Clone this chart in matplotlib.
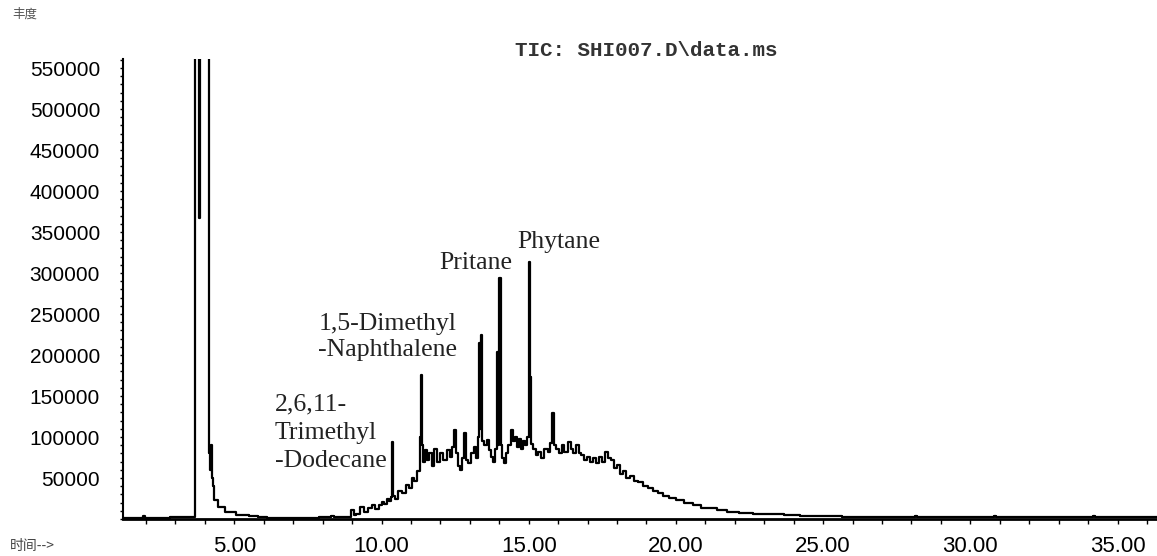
import matplotlib
matplotlib.use("Agg")
import matplotlib.pyplot as plt
from matplotlib.ticker import MultipleLocator, FixedLocator

# Total ion chromatogram, retention time in minutes vs. abundance (counts)
rt = [1.22, 1.85, 1.93, 2.00, 2.10, 3.50, 3.66, 3.69, 3.80, 3.82,
      3.84, 4.14, 4.16, 4.20, 4.23, 4.26, 4.30, 4.35, 4.51, 4.85,
      5.30, 5.70, 5.94, 6.30, 7.50, 8.25, 8.35, 8.45, 8.93, 9.03,
      9.10, 9.17, 9.37, 9.47, 9.60, 9.74, 9.85, 9.95, 10.05, 10.15,
      10.22, 10.29, 10.36, 10.38, 10.41, 10.50, 10.63, 10.77, 10.87, 10.97,
      11.07, 11.17, 11.27, 11.32, 11.37, 11.39, 11.44, 11.51, 11.58, 11.68,
      11.75, 11.85, 11.95, 12.05, 12.16, 12.26, 12.36, 12.43, 12.51, 12.56,
      12.63, 12.70, 12.77, 12.84, 12.90, 13.00, 13.10, 13.18, 13.25, 13.31,
      13.33, 13.36, 13.40, 13.42, 13.52, 13.62, 13.69, 13.75, 13.82, 13.89,
      13.93, 13.97, 14.03, 14.06, 14.13, 14.20, 14.26, 14.36, 14.43, 14.50,
      14.57, 14.64, 14.71, 14.77, 14.84, 14.91, 14.97, 15.02, 15.04, 15.07,
      15.11, 15.21, 15.28, 15.38, 15.48, 15.59, 15.69, 15.76, 15.84, 15.89,
      15.99, 16.09, 16.16, 16.27, 16.37, 16.47, 16.57, 16.67, 16.74, 16.84,
      16.94, 17.04, 17.14, 17.25, 17.35, 17.45, 17.55, 17.66, 17.76, 17.86,
      17.96, 18.06, 18.16, 18.27, 18.37, 18.51, 18.64, 18.78, 18.95, 19.12,
      19.29, 19.46, 19.66, 19.87, 20.14, 20.41, 20.72, 20.99, 21.26, 21.56,
      21.94, 22.35, 22.86, 23.44, 23.88, 24.56, 25.34, 25.92, 26.94, 28.10,
      28.16, 28.22, 30.78, 30.84, 30.90, 34.14, 34.20, 34.26, 36.34]

tic = [1500, 1500, 4000, 1500, 1500, 2000, 3000, 1500000, 1400000, 367000,
       1300000, 1200000, 80000, 60000, 90000, 50000, 40000, 23000, 15000, 9000,
       5000, 3500, 2500, 1500, 1500, 2000, 4000, 2000, 3000, 11000,
       5000, 6000, 15000, 8000, 14000, 17000, 12000, 17000, 21000, 18000,
       25000, 22000, 27000, 94000, 28000, 24000, 34000, 32000, 42000, 38000,
       50000, 46000, 58000, 100000, 176000, 90000, 70000, 84000, 72000, 80000,
       65000, 85000, 70000, 80000, 72000, 84000, 76000, 88000, 108000, 80000,
       65000, 60000, 75000, 105000, 72000, 68000, 80000, 88000, 74000, 100000,
       215000, 110000, 224000, 95000, 90000, 96000, 84000, 76000, 70000, 85000,
       204000, 90000, 294000, 90000, 74000, 68000, 80000, 90000, 108000, 95000,
       100000, 88000, 98000, 85000, 95000, 90000, 100000, 313000, 100000, 173000,
       92000, 85000, 78000, 82000, 74000, 85000, 82000, 93000, 129000, 90000,
       85000, 80000, 90000, 82000, 94000, 85000, 80000, 90000, 80000, 78000,
       72000, 76000, 70000, 75000, 68000, 76000, 70000, 82000, 74000, 72000,
       62000, 66000, 55000, 58000, 50000, 52000, 46000, 45000, 40000, 38000,
       34000, 32000, 28000, 26000, 23000, 19000, 17000, 14000, 13000, 11000,
       9000, 7500, 6500, 5500, 5000, 4000, 3500, 2500, 2000, 2000,
       4000, 2000, 2000, 4000, 2000, 2000, 4000, 2000, 2000]

assert len(rt) == len(tic)

x_ticks = [5, 10, 15, 20, 25, 30, 35]
y_ticks = [50000, 100000, 150000, 200000, 250000, 300000,
           350000, 400000, 450000, 500000, 550000]

fig = plt.figure(figsize=(11.57, 5.56), dpi=100)
ax = fig.add_axes([123 / 1157, 37 / 556, 1034 / 1157, 460 / 556])

# stepped trace, like the instrument's own plot
ax.plot(rt, tic, color="black", lw=1.6, drawstyle="steps-mid")

ax.set_xlim(1.22, 36.34)
ax.set_ylim(0, 561000)

for side in ("top", "right"):
    ax.spines[side].set_visible(False)
ax.spines["left"].set_linewidth(1.5)
ax.spines["bottom"].set_linewidth(2)

ax.xaxis.set_major_locator(FixedLocator(x_ticks))
ax.xaxis.set_minor_locator(MultipleLocator(1))
ax.set_xticklabels([f"{v:.2f}" for v in x_ticks], fontsize=16, family="Liberation Sans")
ax.tick_params(axis="x", which="both", direction="out", length=3.5, width=1, pad=8.5)

ax.yaxis.set_major_locator(FixedLocator(y_ticks))
ax.yaxis.set_minor_locator(MultipleLocator(10000))
ax.set_yticklabels([str(v) for v in y_ticks], fontsize=15, family="Liberation Sans")
ax.tick_params(axis="y", which="both", direction="out", length=2, width=1, pad=14.5)

# peak names
serif = dict(family="Liberation Serif", fontsize=18.5, color="#222222")
ax.text(6.38, 153000, "2,6,11-\nTrimethyl\n-Dodecane", ha="left", va="top", linespacing=1.36, **serif)
ax.text(7.85, 251000, "1,5-Dimethyl\n-Naphthalene", ha="left", va="top", linespacing=1.25, **serif)
ax.text(14.03 + 0.4, 299000, "Pritane", ha="right", va="bottom", **serif)
ax.text(15.02 - 0.4, 324000, "Phytane", ha="left", va="bottom", **serif)

fig.text(646 / 1157, 1 - 51 / 556, "TIC: SHI007.D\\data.ms", family="Liberation Mono",
         fontweight="bold", fontsize=15, ha="center", va="center", color="#333333")
fig.text(12 / 1157, 1 - 14 / 556, "丰度", family=["Noto Sans CJK SC", "DejaVu Sans"],
         fontsize=9, ha="left", va="center", color="#555555")
fig.text(10 / 1157, 1 - 546 / 556, "时间-->", family=["Noto Sans CJK SC", "DejaVu Sans"],
         fontsize=10, ha="left", va="center", color="#444444")

fig.savefig("out.png", dpi=100)
